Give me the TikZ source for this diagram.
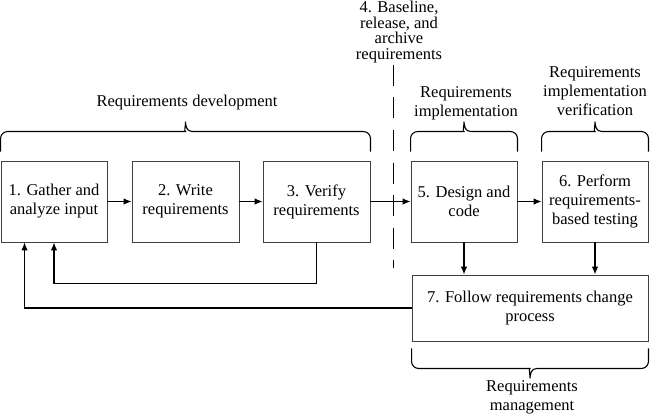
\documentclass[tikz,border=0pt]{standalone}
\usepackage{fontspec}
\setmainfont{Liberation Serif}
\usetikzlibrary{calc, arrows.meta, positioning}

\begin{document}
\begin{tikzpicture}[x=1pt, y=-1pt,
    stepbox/.style={draw=black!75, line width=0.9pt, minimum width=106pt, minimum height=81pt,
      align=center, inner sep=2pt, font=\fontsize{16.5}{19}\selectfont},
    grouptext/.style={align=center, inner sep=0pt, font=\fontsize{16.5}{19}\selectfont},
    flow/.style={line width=1.1pt, -{Latex[length=8pt,width=6.5pt]}},
    reqbrace/.style={line width=1.1pt, rounded corners=7pt}]
    \useasboundingbox (0,0) rectangle (650,417);
    % process steps
    \node[stepbox] (b1) at (54,201.5) {1. Gather and\\analyze input};
    \node[stepbox, minimum width=107pt] (b2) at (185.5,201.5) {2. Write\\requirements};
    \node[stepbox, minimum width=107pt] (b3) at (316.5,201.5) {3. Verify\\requirements};
    \node[stepbox] (b5) at (464,201.5) {5. Design and\\code};
    \node[stepbox] (b6) at (595,201.5) {6. Perform\\requirements-\\based testing};
    \node[stepbox, minimum width=236pt, minimum height=66pt] (b7) at (530,308) {7. Follow requirements change\\process};
    % baseline marker
    \node[grouptext, font=\fontsize{16.5}{15.7}\selectfont] (base) at (399,32) {4. Baseline,\\release, and\\archive\\requirements};
    \coordinate (d1) at (393.5,65); \coordinate (d2) at (393.5,268);
    \draw[line width=1.1pt, dash pattern=on 21pt off 11.5pt] (d1) -- (d2);
    % connectors
    \draw[flow] (b1) -- (b2);
    \draw[flow] (b2) -- (b3);
    \draw[flow] (b3) -- (b5);
    \draw[flow] (b5) -- (b6);
    \draw[flow] (b5.south) -- (b5.south |- b7.north);
    \draw[flow] (b6.south) -- (b6.south |- b7.north);
    \draw[flow] (b3.south) -- ++(0,41) -| (b1.south);
    \draw[flow] (b7.west) -| ([xshift=24pt]b1.south west);
    % braces
    \foreach \a/\b in {b1/b3, b5/b5, b6/b6}
      \draw[reqbrace] let \p1=([yshift=9pt]\a.north west), \p2=([yshift=9pt]\b.north east), \n1={(\x1+\x2)/2} in
        (\p1) -- (\x1,{\y1+20pt}) -- ({\n1-7pt},{\y1+20pt}) [sharp corners]
        .. controls ({\n1-1.5pt},{\y1+20pt}) and (\n1,{\y1+25pt}) .. (\n1,{\y1+30pt})
        .. controls (\n1,{\y1+25pt}) and ({\n1+1.5pt},{\y1+20pt}) .. ({\n1+7pt},{\y1+20pt})
        [rounded corners=7pt] -- (\x2,{\y1+20pt}) -- (\p2);
    \draw[reqbrace] let \p1=([yshift=-7pt]b7.south west), \p2=([yshift=-7pt]b7.south east), \n1={(\x1+\x2)/2} in
      (\p1) -- (\x1,{\y1-20pt}) -- ({\n1-7pt},{\y1-20pt}) [sharp corners]
      .. controls ({\n1-1.5pt},{\y1-20pt}) and (\n1,{\y1-25pt}) .. (\n1,{\y1-30pt})
      .. controls (\n1,{\y1-25pt}) and ({\n1+1.5pt},{\y1-20pt}) .. ({\n1+7pt},{\y1-20pt})
      [rounded corners=7pt] -- (\x2,{\y1-20pt}) -- (\p2);
    % group labels
    \node[grouptext] (dev) at (187,103) {Requirements development};
    \node[grouptext] (impl) at (466,103) {Requirements\\implementation};
    \node[grouptext] (verif) at (595,91) {Requirements\\implementation\\verification};
    \node[grouptext] (mgmt) at (532,397) {Requirements\\management};
\end{tikzpicture}
\end{document}
